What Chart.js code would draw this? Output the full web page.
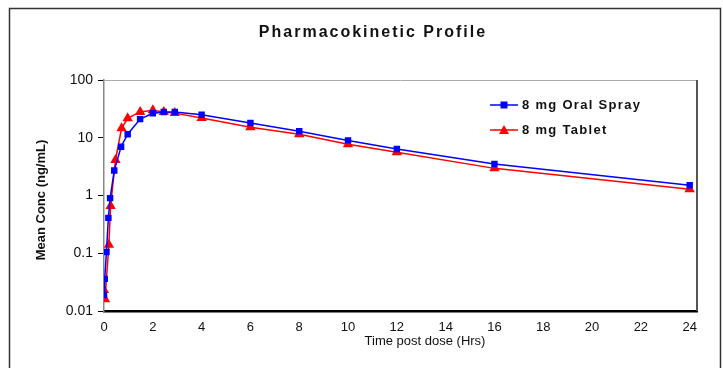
<!DOCTYPE html>
<html>
<head>
<meta charset="utf-8">
<script src="https://cdn.jsdelivr.net/npm/chart.js@4.4.0/dist/chart.umd.min.js"></script>
<style>
  html, body { margin: 0; padding: 0; background: #fff; }
  #wrap { width: 723px; height: 368px; }
</style>
</head>
<body>
<div id="wrap"><canvas id="pkChart"></canvas></div>
<script>
// values
const sprayTimes = [0, 0.03, 0.1, 0.18, 0.25, 0.42, 0.7, 0.97, 1.48, 2, 2.45, 2.9, 4, 6, 8, 10, 12, 16, 24];
const sprayConc = [0.019, 0.036, 0.105, 0.41, 0.9, 2.7, 7.0, 11.5, 21, 26.5, 28, 28, 25, 18, 13, 9, 6.4, 3.5, 1.5];
const tabletTimes = [0, 0.04, 0.2, 0.27, 0.47, 0.72, 0.97, 1.48, 2, 2.45, 2.9, 4, 6, 8, 10, 12, 16, 24];
const tabletConc = [0.023, 0.016, 0.14, 0.66, 4.1, 14.6, 21.7, 28, 30, 28, 26.7, 22, 15.2, 11.5, 7.7, 5.6, 2.95, 1.28];
const yTicks = [0.01, 0.1, 1, 10, 100];
const yTickLabels = ['0.01', '0.1', '1', '10', '100'];

const FONT = "'Liberation Sans', Arial, sans-serif";

function toPoints(xs, ys) {
  return xs.map(function (x, i) { return { x: x, y: ys[i] }; });
}

// frame, plot border, titles and legend inside the plot
const decorations = {
  id: 'decorations',
  beforeDraw: function (chart) {
    const c = chart.ctx;
    c.save();
    c.fillStyle = '#fff';
    c.fillRect(0, 0, chart.width, chart.height);
    c.strokeStyle = '#333';
    c.lineWidth = 1.5;
    c.beginPath();
    c.moveTo(9.5, 368);
    c.lineTo(9.5, 8.5);
    c.lineTo(720.5, 8.5);
    c.lineTo(720.5, 368);
    c.stroke();

    // chart title
    c.fillStyle = '#111';
    c.font = 'bold 16px ' + FONT;
    c.letterSpacing = '2px';
    c.textAlign = 'center';
    c.textBaseline = 'middle';
    c.fillText('Pharmacokinetic Profile', 373, 33);
    c.restore();
  },
  afterDatasetsDraw: function (chart) {
    const c = chart.ctx;
    const a = chart.chartArea;
    c.save();
    // top and right border of the plot
    c.strokeStyle = '#aaa';
    c.lineWidth = 1;
    c.beginPath();
    c.moveTo(a.left, a.top + 0.5);
    c.lineTo(a.right, a.top + 0.5);
    c.stroke();
    c.strokeStyle = '#555';
    c.lineWidth = 2;
    c.beginPath();
    c.moveTo(a.right, a.top);
    c.lineTo(a.right, a.bottom);
    c.stroke();

    // axis titles
    c.fillStyle = '#111';
    c.font = '13px ' + FONT;
    c.textAlign = 'center';
    c.textBaseline = 'middle';
    c.fillText('Time post dose (Hrs)', 425, 341);
    c.translate(41, 200);
    c.rotate(-Math.PI / 2);
    c.font = 'bold 13px ' + FONT;
    c.fillText('Mean Conc (ng/mL)', 0, 0);
    c.restore();

    // legend
    c.save();
    const rows = [105, 130];
    chart.data.datasets.forEach(function (ds, i) {
      const y = rows[i];
      c.strokeStyle = ds.borderColor;
      c.lineWidth = 1.5;
      c.beginPath();
      c.moveTo(490, y);
      c.lineTo(518, y);
      c.stroke();
      c.fillStyle = ds.backgroundColor;
      c.beginPath();
      if (ds.pointStyle === 'rect') {
        c.rect(500.5, y - 3.5, 7, 7);
      } else {
        c.moveTo(504, y - 5);
        c.lineTo(509, y + 4);
        c.lineTo(499, y + 4);
        c.closePath();
      }
      c.fill();
      c.fillStyle = '#111';
      c.font = 'bold 13px ' + FONT;
      c.letterSpacing = '1.3px';
      c.textAlign = 'left';
      c.textBaseline = 'middle';
      c.fillText(ds.label, 522, y);
    });
    c.restore();
  }
};

new Chart(document.getElementById('pkChart'), {
  type: 'line',
  data: {
    datasets: [
      {
        label: '8 mg Oral Spray',
        data: toPoints(sprayTimes, sprayConc),
        borderColor: '#0000ff',
        backgroundColor: '#0000ff',
        borderWidth: 1.5,
        pointStyle: 'rect',
        pointRadius: 3.5,
        tension: 0
      },
      {
        label: '8 mg Tablet',
        data: toPoints(tabletTimes, tabletConc),
        borderColor: '#ff0000',
        backgroundColor: '#ff0000',
        borderWidth: 1.5,
        pointStyle: 'triangle',
        pointRadius: 4.5,
        tension: 0
      }
    ]
  },
  options: {
    responsive: true,
    maintainAspectRatio: false,
    animation: false,
    events: [],
    layout: { padding: { left: 0, right: 26, top: 80, bottom: 0 } },
    plugins: {
      legend: { display: false },
      tooltip: { enabled: false },
      title: { display: false }
    },
    scales: {
      x: {
        type: 'linear',
        min: 0,
        max: 24.3,
        afterFit: function (scale) { scale.height = 57; },
        afterBuildTicks: function (scale) {
          const t = [];
          for (let v = 0; v <= 24; v += 2) t.push({ value: v });
          scale.ticks = t;
        },
        grid: { display: false },
        border: { color: '#000', width: 2.5 },
        ticks: {
          color: '#111',
          padding: 1,
          maxRotation: 0,
          font: { family: FONT, size: 13 }
        }
      },
      y: {
        type: 'logarithmic',
        min: 0.01,
        max: 100,
        afterFit: function (scale) { scale.width = 104; },
        afterBuildTicks: function (scale) {
          scale.ticks = yTicks.map(function (v) { return { value: v }; });
        },
        grid: { drawOnChartArea: false, color: '#000', tickLength: 6 },
        border: { color: '#888', width: 1.5 },
        ticks: {
          color: '#111',
          padding: 5,
          font: { family: FONT, size: 14 },
          callback: function (value) {
            const i = yTicks.indexOf(value);
            return i >= 0 ? yTickLabels[i] : '';
          }
        }
      }
    }
  },
  plugins: [decorations]
});
</script>
</body>
</html>
